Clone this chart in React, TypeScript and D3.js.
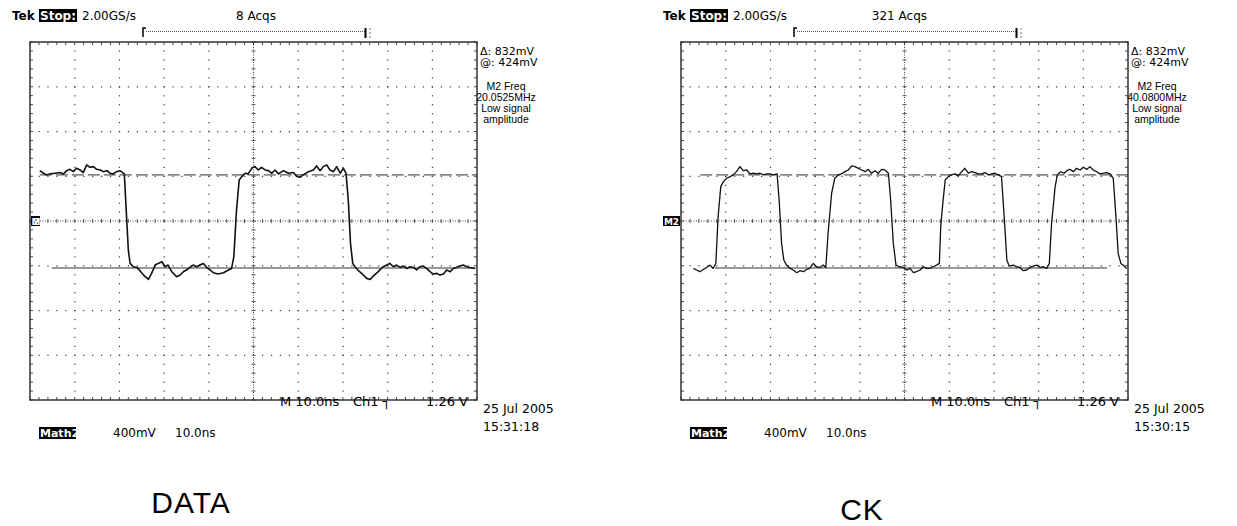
import React from 'react';
import * as d3 from 'd3';

const W = 1237;
const H = 526;

// DATA trace (time in ns, level in mV)
const dataTimeNs = [-47.8,-47.0,-46.3,-45.5,-44.4,-43.3,-42.5,-41.8,-41.1,-40.3,-39.6,-38.8,-38.1,-37.3,-36.6,-35.8,-35.1,-34.3,-33.6,-32.8,-32.1,-31.4,-30.6,-29.9,-28.9,-28.4,-28.0,-27.6,-26.9,-26.1,-25.4,-24.6,-23.5,-22.8,-22.0,-21.3,-20.5,-19.8,-19.1,-18.3,-17.2,-16.4,-15.7,-15.0,-14.2,-13.5,-12.7,-12.0,-11.2,-10.5,-9.7,-9.0,-7.9,-6.7,-5.6,-4.9,-4.4,-3.8,-3.2,-2.6,-1.9,-1.2,-0.4,0.3,1.1,1.8,2.6,3.3,4.1,4.8,5.6,6.7,7.8,8.9,9.7,10.4,11.1,12.3,13.4,14.1,14.9,15.6,16.4,17.1,17.9,18.6,19.4,20.1,20.7,21.2,21.7,22.2,22.7,23.5,24.6,25.3,26.1,26.8,27.9,29.0,29.8,30.5,31.3,32.0,32.8,33.5,34.3,35.0,35.8,36.5,37.2,38.0,38.7,39.5,40.2,41.0,41.7,42.5,43.2,44.0,44.7,45.8,46.9,47.7,48.4,49.6];
const dataMv = [450,427,412,421,427,433,421,450,462,441,471,456,433,501,480,486,462,456,441,450,427,421,441,450,421,39,-260,-379,-409,-415,-444,-483,-522,-468,-394,-379,-364,-409,-394,-453,-498,-483,-453,-438,-415,-394,-409,-394,-379,-415,-438,-462,-474,-462,-438,-424,-319,98,367,397,427,421,471,486,456,480,456,450,427,456,421,450,427,433,397,391,412,441,456,492,450,486,501,456,441,486,427,471,427,188,-200,-379,-409,-444,-483,-513,-522,-492,-453,-409,-394,-379,-409,-394,-415,-403,-424,-409,-415,-438,-409,-403,-424,-453,-474,-468,-483,-474,-438,-453,-424,-409,-394,-409,-415,-424];

// CK trace (time in ns, level in mV)
const ckTimeNs = [-47.2,-46.5,-45.8,-45.0,-44.3,-43.5,-42.8,-42.2,-41.7,-41.1,-40.5,-39.8,-39.0,-38.3,-37.6,-36.8,-36.1,-35.3,-34.6,-33.8,-33.1,-32.3,-31.6,-30.8,-30.1,-29.4,-28.5,-28.0,-27.5,-27.0,-26.4,-25.6,-24.9,-24.1,-23.4,-22.6,-21.9,-21.2,-20.4,-19.7,-18.9,-18.2,-17.6,-17.1,-16.3,-15.6,-14.8,-14.1,-13.3,-12.6,-11.8,-11.1,-10.3,-9.6,-8.8,-8.1,-7.4,-6.6,-5.9,-5.1,-4.4,-3.6,-3.1,-2.5,-1.9,-1.2,-0.3,0.5,1.2,2.0,2.7,3.5,4.2,5.0,5.7,6.4,7.2,7.8,8.1,8.5,9.1,9.8,10.5,11.3,12.0,12.8,13.5,14.3,15.0,15.8,16.5,17.3,18.0,18.8,19.5,20.2,21.0,21.7,22.3,22.9,23.4,24.3,25.1,25.8,26.6,27.3,28.1,28.8,29.6,30.3,31.1,31.8,32.4,32.9,33.7,34.2,34.9,35.7,36.3,37.0,37.8,38.5,39.3,40.0,40.8,41.5,42.2,43.0,43.7,44.5,45.2,46.0,46.7,47.3,47.8,48.4,48.9,49.7];
const ckMv = [-424,-438,-453,-433,-415,-394,-424,-379,39,307,352,382,397,412,441,486,450,456,421,427,421,427,412,421,421,412,421,158,-200,-349,-394,-424,-438,-462,-444,-453,-433,-424,-379,-409,-415,-394,-415,-110,248,382,412,421,441,456,492,486,471,456,441,462,427,450,427,462,456,427,188,-200,-394,-409,-415,-438,-424,-462,-453,-438,-409,-424,-424,-409,-394,-379,-51,128,367,397,412,421,403,441,471,427,441,433,421,421,433,412,421,427,412,397,39,-349,-403,-394,-409,-415,-444,-438,-415,-403,-394,-415,-409,-424,-379,-21,307,412,441,427,450,462,441,471,456,480,462,486,456,441,421,427,433,421,382,39,-289,-379,-394,-424];

const panelLabels = ['DATA', 'CK'];
const acqLabels = ['8 Acqs', '321 Acqs'];
const freqLabels = ['20.0525MHz', '40.0800MHz'];
const timeLabels = ['15:31:18', '15:30:15'];
const dateLabel = '25 Jul 2005';
const deltaLabel = '\u0394: 832mV';
const atLabel = '@:  424mV';
const cursorHighMv = 412;
const cursorLowMv = -420;
const dashedSpan = [[-47.8, 50], [-45.7, 50]];
const solidSpan = [[-45.1, 49.6], [-42.4, 45.3]];

const FONT = 'DejaVu Sans, Verdana, sans-serif';
const FONT2 = 'Liberation Sans, Arial, sans-serif';

function Panel({ idx, offset, times, mvs }: { idx: number; offset: number; times: number[]; mvs: number[] }) {
  const x = d3.scaleLinear().domain([-50, 50]).range([30 + offset, 477 + offset]);
  const y = d3.scaleLinear().domain([-1600, 1600]).range([400, 42]);
  const xMinor = d3.range(-50, 50.001, 2);
  const yMinor = d3.range(-1600, 1600.001, 80);
  const xMajor = d3.range(-40, 40.001, 10);
  const yMajor = d3.range(-1200, 1200.001, 400);
  const pts: [number, number][] = times.map((t, i) => [t, mvs[i]]);
  const line = d3.line<[number, number]>().x(d => x(d[0])).y(d => y(d[1]));
  const gridColor = '#333';
  const dots: JSX.Element[] = [];
  xMajor.forEach(t => {
    if (t === 0) return;
    yMinor.forEach(v => {
      if (Math.abs(v) >= 1600) return;
      dots.push(<rect key={`v${t}_${v}`} x={x(t) - 0.5} y={y(v) - 0.5} width={1.2} height={1.2} fill={gridColor} />);
    });
  });
  yMajor.forEach(v => {
    if (v === 0) return;
    xMinor.forEach(t => {
      if (Math.abs(t) >= 50) return;
      dots.push(<rect key={`h${t}_${v}`} x={x(t) - 0.5} y={y(v) - 0.5} width={1.2} height={1.2} fill={gridColor} />);
    });
  });
  const x0 = x(-50), x1 = x(50), y0 = y(1600), y1 = y(-1600);
  const hx = 12 + offset;
  return (
    <g>
      {/* header */}
      <text x={hx} y={20} fontFamily={FONT} fontSize={12} fontWeight="bold">Tek</text>
      <rect x={39 + offset} y={9} width={38} height={13} fill="#000" />
      <text x={40 + offset} y={20} fontFamily={FONT} fontSize={12} fontWeight="bold" fill="#fff">Stop:</text>
      <text x={82 + offset} y={20} fontFamily={FONT} fontSize={12}>2.00GS/s</text>
      <text x={276 + offset} y={20} fontFamily={FONT} fontSize={12} textAnchor="end">{acqLabels[idx]}</text>
      <path d={`M${143 + offset},37 V28 H${146 + offset}`} stroke="#000" strokeWidth={1.5} fill="none" />
      <line x1={146 + offset} x2={365 + offset} y1={31.5} y2={31.5} stroke="#555" strokeWidth={1} strokeDasharray="1,1" />
      <line x1={365.5 + offset} x2={365.5 + offset} y1={28} y2={38} stroke="#000" strokeWidth={2} />
      <line x1={370 + offset} x2={370 + offset} y1={28} y2={38} stroke="#777" strokeWidth={1} strokeDasharray="2,2" />
      {/* graticule dots */}
      {dots}
      {/* center crosshair */}
      <line x1={x(0)} x2={x(0)} y1={y0} y2={y1} stroke="#444" strokeWidth={1} strokeDasharray="1,1.5" />
      <line x1={x0} x2={x1} y1={y(0)} y2={y(0)} stroke="#444" strokeWidth={1} strokeDasharray="1,1.5" />
      {yMinor.map(v => (
        <line key={`cy${v}`} x1={x(0) - 2} x2={x(0) + 2} y1={y(v)} y2={y(v)} stroke="#555" strokeWidth={1} />
      ))}
      {xMinor.map(t => (
        <line key={`cx${t}`} x1={x(t)} x2={x(t)} y1={y(0) - 2} y2={y(0) + 2} stroke="#555" strokeWidth={1} />
      ))}
      {/* frame ticks */}
      {xMinor.map(t => (
        <g key={`ft${t}`}>
          <line x1={x(t)} x2={x(t)} y1={y0} y2={y0 + 3} stroke="#444" strokeWidth={1} />
          <line x1={x(t)} x2={x(t)} y1={y1} y2={y1 - 3} stroke="#444" strokeWidth={1} />
        </g>
      ))}
      {yMinor.map(v => (
        <g key={`fy${v}`}>
          <line x1={x0} x2={x0 + 3} y1={y(v)} y2={y(v)} stroke="#444" strokeWidth={1} />
          <line x1={x1} x2={x1 - 3} y1={y(v)} y2={y(v)} stroke="#444" strokeWidth={1} />
        </g>
      ))}
      <rect x={x0} y={y0} width={x1 - x0} height={y1 - y0} fill="none" stroke="#333" strokeWidth={1.5} />
      {/* cursors */}
      <line x1={x(dashedSpan[idx][0])} x2={x(dashedSpan[idx][1])} y1={y(cursorHighMv)} y2={y(cursorHighMv)} stroke="#333" strokeWidth={1} strokeDasharray="12,4" />
      <line x1={x(solidSpan[idx][0])} x2={x(solidSpan[idx][1])} y1={y(cursorLowMv)} y2={y(cursorLowMv)} stroke="#333" strokeWidth={1} />
      {/* waveform */}
      <path d={line(pts) || ''} fill="none" stroke="#111" strokeWidth={idx === 0 ? 1.6 : 1.3} strokeLinejoin="round" />
      {/* M2 marker */}
      {idx === 0 && <rect x={x0 + 1} y={y(0) - 5} width={9} height={10} fill="#000" />}
      {idx === 1 && <rect x={x0 - 18} y={y(0) - 5} width={17} height={10} fill="#000" />}
      <text x={idx === 0 ? x0 + 1.5 : x0 - 17} y={y(0) + 4} fontFamily={FONT} fontSize={9} fontWeight="bold" fill="#fff" textLength={idx === 0 ? 8 : 15}>M2</text>
      {/* right readouts */}
      <text x={x1 + 3} y={55} fontFamily={FONT} fontSize={11}>{deltaLabel}</text>
      <text x={x1 + 3} y={66} fontFamily={FONT} fontSize={11}>{atLabel}</text>
      <text x={x1 + 29} y={90} fontFamily={FONT2} fontSize={10.5} textAnchor="middle">M2 Freq</text>
      <text x={x1 + 29} y={101} fontFamily={FONT2} fontSize={10.5} textAnchor="middle">{freqLabels[idx]}</text>
      <text x={x1 + 29} y={112} fontFamily={FONT2} fontSize={10.5} textAnchor="middle">Low signal</text>
      <text x={x1 + 29} y={123} fontFamily={FONT2} fontSize={10.5} textAnchor="middle">amplitude</text>
      {/* bottom readouts */}
      <text x={280 + offset} y={406} fontFamily={FONT} fontSize={13}>M 10.0ns</text>
      <text x={353 + offset} y={406} fontFamily={FONT} fontSize={13}>Ch1 {'\u2510'}</text>
      <text x={x1 - 9} y={406} fontFamily={FONT} fontSize={13} textAnchor="end">1.26 V</text>
      <text x={x1 + 6} y={413} fontFamily={FONT} fontSize={12.5}>{dateLabel}</text>
      <text x={x1 + 6} y={431} fontFamily={FONT} fontSize={12.5}>{timeLabels[idx]}</text>
      <rect x={39 + offset} y={427} width={37} height={12} fill="#000" />
      <text x={40 + offset} y={437} fontFamily={FONT} fontSize={11} fontWeight="bold" fill="#fff">Math2</text>
      <text x={113 + offset} y={437} fontFamily={FONT} fontSize={12}>400mV</text>
      <text x={175 + offset} y={437} fontFamily={FONT} fontSize={12}>10.0ns</text>
      <text x={idx === 0 ? 191 : 862} y={idx === 0 ? 513 : 520} fontFamily={FONT2} fontSize={30} textAnchor="middle" letterSpacing={1}>{panelLabels[idx]}</text>
    </g>
  );
}

export default function App() {
  return (
    <svg width={W} height={H} style={{ position: 'absolute', left: 0, top: 0, background: '#fff' }}>
      <rect width={W} height={H} fill="#fff" />
      <Panel idx={0} offset={0} times={dataTimeNs} mvs={dataMv} />
      <Panel idx={1} offset={651} times={ckTimeNs} mvs={ckMv} />
    </svg>
  );
}
